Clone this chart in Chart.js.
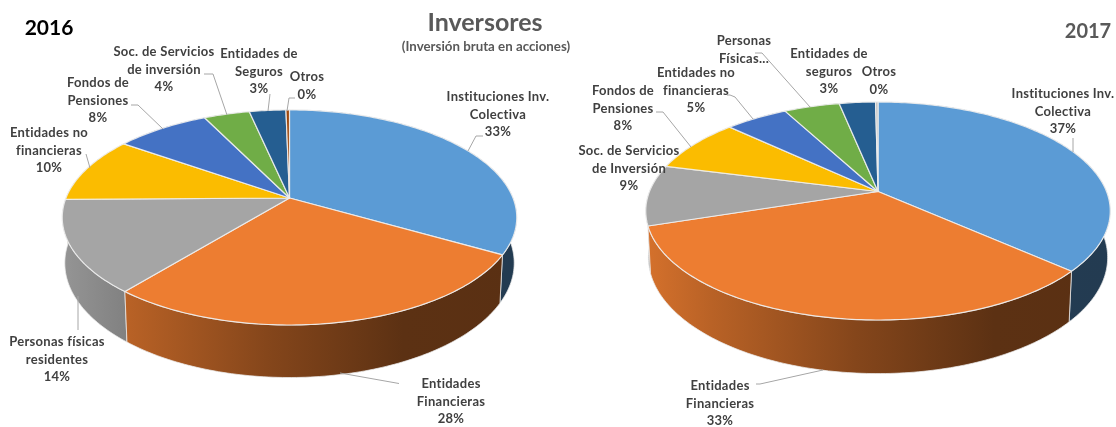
<!DOCTYPE html>
<html><head><meta charset="utf-8">
<script src="https://cdn.jsdelivr.net/npm/chart.js@4"></script>
<style>
html,body{margin:0;padding:0;background:#fff;width:1116px;height:427px;overflow:hidden}
canvas{position:absolute;left:0;top:0}
</style></head><body>
<canvas id="c2016" width="1116" height="427"></canvas>
<canvas id="c2017" width="1116" height="427"></canvas>
<script>
// ---- data ----
const categories2016 = ["Instituciones Inv. Colectiva","Entidades Financieras","Personas físicas residentes","Entidades no financieras","Fondos de Pensiones","Soc. de Servicios de inversión","Entidades de Seguros","Otros"];
const values2016 = [33.4, 27.7, 13.9, 10, 8, 3.9, 3.1, 0.3];
const colors2016 = ["#5B9BD5","#ED7D31","#A5A5A5","#FBBC00","#4472C4","#70AD47","#255E91","#9E480E"];
const categories2017 = ["Instituciones Inv. Colectiva","Entidades Financieras","Soc. de Servicios de Inversión","Fondos de Pensiones","Entidades no financieras","Personas Físicas...","Entidades de seguros","Otros"];
const values2017 = [36.6, 33.4, 9, 8, 5.2, 4.6, 3, 0.2];
const colors2017 = ["#5B9BD5","#ED7D31","#A5A5A5","#FBBC00","#4472C4","#70AD47","#255E91","#BDBDBD"];

// ---- label layout (line breaks, centre x, first-line centre y) per slice ----
const layout2016 = [
 {lines:["Instituciones Inv.","Colectiva"],x:498,y:97,leader:[[468,151],[476,136],[483,136]]},
 {lines:["Entidades","Financieras"],x:451,y:384,leader:[[340,373],[399,383.5]]},
 {lines:["Personas físicas","residentes"],x:57,y:342,leader:[[78,296],[78,330]]},
 {lines:["Entidades no","financieras"],x:49,y:133,leader:[[90,168],[86,154]]},
 {lines:["Fondos de","Pensiones"],x:98,y:83,leader:[[163,129],[138,105],[131,105]]},
 {lines:["Soc. de Servicios","de inversión"],x:164,y:52,leader:[[227,115],[213,74],[204,74]]},
 {lines:["Entidades de","Seguros"],x:259,y:54,leader:[[268,111],[270,94]]},
 {lines:["Otros"],x:307,y:77,leader:[[287,111],[289,98],[295,98]]}
];
const layout2017 = [
 {lines:["Instituciones Inv.","Colectiva"],x:1063,y:94,leader:[[1073,152],[1073,138]]},
 {lines:["Entidades","Financieras"],x:720,y:386,leader:[[823,370],[760,384],[756,384]]},
 {lines:["Soc. de Servicios","de Inversión"],x:629,y:151},
 {lines:["Fondos de","Pensiones"],x:623,y:91,leader:[[691,147],[663,112],[656,112]]},
 {lines:["Entidades no","financieras"],x:696,y:73,leader:[[753,119],[735,97],[730,95],[727,95]]},
 {lines:["Personas","Físicas..."],x:744,y:41,noPct:true,leader:[[810,107],[762,53],[755,53]]},
 {lines:["Entidades de","seguros"],x:829,y:54},
 {lines:["Otros"],x:879,y:72}
];

const FONT = 'Lato, "Open Sans", sans-serif';
const TEXT = '#404040';

function shade(hex,f){
  const n=parseInt(hex.slice(1),16);
  return `rgb(${Math.round((n>>16&255)*f)},${Math.round((n>>8&255)*f)},${Math.round((n&255)*f)})`;
}

const pie3d = {
  id:'pie3d',
  beforeDatasetDraw(chart,args,o){
    const {ctx}=chart, meta=args.meta, colors=chart.data.datasets[0].backgroundColor;
    const proj=(a,z)=>{
      const u=Math.cos(a), v=Math.sin(a), w=1-o.k*v+(z?o.m:0);
      return [o.cx+o.B*u/w, o.cy+(o.A*v+(z?o.h:0))/w];
    };
    const arcPts=(s,e,z)=>{
      const n=Math.max(2,Math.ceil((e-s)/(Math.PI/180))), p=[];
      for(let i=0;i<=n;i++) p.push(proj(s+(e-s)*i/n,z));
      return p;
    };
    const left=o.cx-o.B*1.016, width=2*o.B*1.016;
    const arcs=meta.data.map((el,i)=>({el,i})).sort((a,b)=>Math.sin((a.el.startAngle+a.el.endAngle)/2)-Math.sin((b.el.startAngle+b.el.endAngle)/2));
    ctx.save();
    ctx.lineJoin='round';
    // walls
    arcs.forEach(({el,i})=>{
      const top=arcPts(el.startAngle,el.endAngle,false), bot=arcPts(el.startAngle,el.endAngle,true).reverse();
      const g=ctx.createLinearGradient(left,0,left+width,0);
      g.addColorStop(0,shade(colors[i],.9));
      g.addColorStop(.14,shade(colors[i],.78));
      g.addColorStop(.45,shade(colors[i],.56));
      g.addColorStop(.75,shade(colors[i],.39));
      g.addColorStop(1,shade(colors[i],.38));
      ctx.beginPath();
      top.concat(bot).forEach((p,j)=>j?ctx.lineTo(p[0],p[1]):ctx.moveTo(p[0],p[1]));
      ctx.closePath();
      ctx.fillStyle=g; ctx.fill();
      ctx.strokeStyle='rgba(235,235,235,.75)'; ctx.lineWidth=1; ctx.stroke();
    });
    // top faces
    meta.data.forEach((el,i)=>{
      const pts=arcPts(el.startAngle,el.endAngle,false);
      ctx.beginPath(); ctx.moveTo(o.cx,o.cy);
      pts.forEach(p=>ctx.lineTo(p[0],p[1]));
      ctx.closePath();
      ctx.fillStyle=colors[i]; ctx.fill();
      ctx.strokeStyle='rgba(238,238,238,.9)'; ctx.lineWidth=1.2; ctx.stroke();
    });
    ctx.restore();
    return false;
  },
  afterDraw(chart,args,o){
    const {ctx}=chart, ds=chart.data.datasets[0];
    ctx.save();
    ctx.textAlign='center'; ctx.textBaseline='middle';
    ctx.strokeStyle='#a6a6a6'; ctx.lineWidth=1;
    o.layout.forEach((l,i)=>{
      if(l.leader){
        ctx.beginPath();
        l.leader.forEach((p,j)=>j?ctx.lineTo(p[0],p[1]):ctx.moveTo(p[0],p[1]));
        ctx.stroke();
      }
      ctx.font='bold 13px '+FONT; ctx.fillStyle=TEXT;
      ctx.letterSpacing='0.28px';
      const lines=l.noPct?l.lines:l.lines.concat(Math.round(ds.data[i])+'%');
      lines.forEach((t,j)=>ctx.fillText(t,l.x,l.y+j*17.5));
    });
    ctx.letterSpacing='0px';
    (o.texts||[]).forEach(t=>{
      ctx.font=t.font+' '+FONT; ctx.fillStyle=t.color;
      ctx.textAlign=t.align||'center';
      ctx.fillText(t.text,t.x,t.y);
    });
    ctx.restore();
  }
};

function make(id,labels,values,colors,geom,layout,texts){
  new Chart(document.getElementById(id),{
    type:'pie',
    data:{labels,datasets:[{data:values,backgroundColor:colors,borderWidth:0}]},
    options:{
      responsive:false,animation:false,
      layout:{padding:0},
      plugins:{legend:{display:false},tooltip:{enabled:false},title:{display:false},
        pie3d:Object.assign({},geom,{layout,texts})}
    },
    plugins:[pie3d]
  });
}

make('c2016',categories2016,values2016,colors2016,
  {cx:289.5,cy:198,A:104,B:223.5,k:.181,h:45,m:.011},layout2016,
  [{text:'2016',x:49,y:28,font:'bold 21px',color:'#000000'},
   {text:'Inversores',x:485,y:23,font:'bold 25px',color:'#595959'},
   {text:'(Inversión bruta en acciones)',x:486,y:47,font:'bold 13.3px',color:'#595959'}]);
make('c2017',categories2017,values2017,colors2017,
  {cx:878,cy:191.5,A:105.5,B:228.5,k:.179,h:46,m:.011},layout2017,
  [{text:'2017',x:1088,y:32,font:'bold 20px',color:'#595959'}]);
</script>
</body></html>
